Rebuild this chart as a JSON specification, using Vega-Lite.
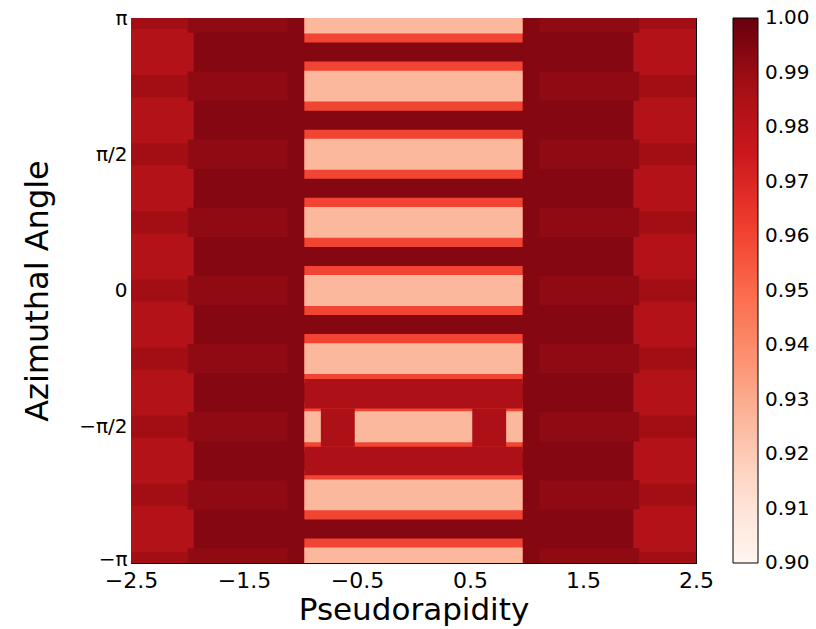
{
  "$schema": "https://vega.github.io/schema/vega-lite/v6.json",
  "width": 565,
  "height": 545,
  "autosize": {"type": "none"},
  "padding": {"left": 131, "top": 18, "right": 120, "bottom": 66},
  "background": "white",
  "config": {
    "view": {"stroke": "black", "strokeWidth": 1},
    "font": "DejaVu Sans"
  },
  "data": {
    "values": [
      {"x1": -2.5, "x2": 2.5, "y1": -3.1416, "y2": 3.1416, "v": 0.983},
      {"x1": -1.945, "x2": 1.945, "y1": -3.1416, "y2": 3.1416, "v": 0.994},

      {"x1": -2.0, "x2": -1.113, "y1": 2.9716, "y2": 3.1416, "v": 0.992},
      {"x1": -2.0, "x2": -1.113, "y1": 2.1862, "y2": 2.5262, "v": 0.992},
      {"x1": -2.0, "x2": -1.113, "y1": 1.4008, "y2": 1.7408, "v": 0.992},
      {"x1": -2.0, "x2": -1.113, "y1": 0.6154, "y2": 0.9554, "v": 0.992},
      {"x1": -2.0, "x2": -1.113, "y1": -0.17, "y2": 0.17, "v": 0.992},
      {"x1": -2.0, "x2": -1.113, "y1": -0.9554, "y2": -0.6154, "v": 0.992},
      {"x1": -2.0, "x2": -1.113, "y1": -1.7408, "y2": -1.4008, "v": 0.992},
      {"x1": -2.0, "x2": -1.113, "y1": -2.5262, "y2": -2.1862, "v": 0.992},
      {"x1": -2.0, "x2": -1.113, "y1": -3.1416, "y2": -2.9716, "v": 0.992},
      {"x1": 1.113, "x2": 2.0, "y1": 2.9716, "y2": 3.1416, "v": 0.992},
      {"x1": 1.113, "x2": 2.0, "y1": 2.1862, "y2": 2.5262, "v": 0.992},
      {"x1": 1.113, "x2": 2.0, "y1": 1.4008, "y2": 1.7408, "v": 0.992},
      {"x1": 1.113, "x2": 2.0, "y1": 0.6154, "y2": 0.9554, "v": 0.992},
      {"x1": 1.113, "x2": 2.0, "y1": -0.17, "y2": 0.17, "v": 0.992},
      {"x1": 1.113, "x2": 2.0, "y1": -0.9554, "y2": -0.6154, "v": 0.992},
      {"x1": 1.113, "x2": 2.0, "y1": -1.7408, "y2": -1.4008, "v": 0.992},
      {"x1": 1.113, "x2": 2.0, "y1": -2.5262, "y2": -2.1862, "v": 0.992},
      {"x1": 1.113, "x2": 2.0, "y1": -3.1416, "y2": -2.9716, "v": 0.992},

      {"x1": -2.5, "x2": -2.0, "y1": 3.0146, "y2": 3.1416, "v": 0.988},
      {"x1": -2.5, "x2": -2.0, "y1": 2.2292, "y2": 2.4832, "v": 0.988},
      {"x1": -2.5, "x2": -2.0, "y1": 1.4438, "y2": 1.6978, "v": 0.988},
      {"x1": -2.5, "x2": -2.0, "y1": 0.6584, "y2": 0.9124, "v": 0.988},
      {"x1": -2.5, "x2": -2.0, "y1": -0.127, "y2": 0.127, "v": 0.988},
      {"x1": -2.5, "x2": -2.0, "y1": -0.9124, "y2": -0.6584, "v": 0.988},
      {"x1": -2.5, "x2": -2.0, "y1": -1.6978, "y2": -1.4438, "v": 0.988},
      {"x1": -2.5, "x2": -2.0, "y1": -2.4832, "y2": -2.2292, "v": 0.988},
      {"x1": -2.5, "x2": -2.0, "y1": -3.1416, "y2": -3.0146, "v": 0.988},
      {"x1": 2.0, "x2": 2.5, "y1": 3.0146, "y2": 3.1416, "v": 0.988},
      {"x1": 2.0, "x2": 2.5, "y1": 2.2292, "y2": 2.4832, "v": 0.988},
      {"x1": 2.0, "x2": 2.5, "y1": 1.4438, "y2": 1.6978, "v": 0.988},
      {"x1": 2.0, "x2": 2.5, "y1": 0.6584, "y2": 0.9124, "v": 0.988},
      {"x1": 2.0, "x2": 2.5, "y1": -0.127, "y2": 0.127, "v": 0.988},
      {"x1": 2.0, "x2": 2.5, "y1": -0.9124, "y2": -0.6584, "v": 0.988},
      {"x1": 2.0, "x2": 2.5, "y1": -1.6978, "y2": -1.4438, "v": 0.988},
      {"x1": 2.0, "x2": 2.5, "y1": -2.4832, "y2": -2.2292, "v": 0.988},
      {"x1": 2.0, "x2": 2.5, "y1": -3.1416, "y2": -3.0146, "v": 0.988},

      {"x1": -0.966, "x2": 0.966, "y1": 2.8586, "y2": 3.1416, "v": 0.960},
      {"x1": -0.966, "x2": 0.966, "y1": 2.0732, "y2": 2.6392, "v": 0.960},
      {"x1": -0.966, "x2": 0.966, "y1": 1.2878, "y2": 1.8538, "v": 0.960},
      {"x1": -0.966, "x2": 0.966, "y1": 0.5024, "y2": 1.0684, "v": 0.960},
      {"x1": -0.966, "x2": 0.966, "y1": -0.283, "y2": 0.283, "v": 0.960},
      {"x1": -0.966, "x2": 0.966, "y1": -1.0684, "y2": -0.5024, "v": 0.960},
      {"x1": -0.966, "x2": 0.966, "y1": -1.8538, "y2": -1.2878, "v": 0.960},
      {"x1": -0.966, "x2": 0.966, "y1": -2.6392, "y2": -2.0732, "v": 0.960},
      {"x1": -0.966, "x2": 0.966, "y1": -3.1416, "y2": -2.8586, "v": 0.960},

      {"x1": -0.966, "x2": 0.966, "y1": 2.9636, "y2": 3.1416, "v": 0.926},
      {"x1": -0.966, "x2": 0.966, "y1": 2.1782, "y2": 2.5342, "v": 0.926},
      {"x1": -0.966, "x2": 0.966, "y1": 1.3928, "y2": 1.7488, "v": 0.926},
      {"x1": -0.966, "x2": 0.966, "y1": 0.6074, "y2": 0.9634, "v": 0.926},
      {"x1": -0.966, "x2": 0.966, "y1": -0.178, "y2": 0.178, "v": 0.926},
      {"x1": -0.966, "x2": 0.966, "y1": -0.9634, "y2": -0.6074, "v": 0.926},
      {"x1": -0.966, "x2": 0.966, "y1": -1.7488, "y2": -1.3928, "v": 0.926},
      {"x1": -0.966, "x2": 0.966, "y1": -2.5342, "y2": -2.1782, "v": 0.926},
      {"x1": -0.966, "x2": 0.966, "y1": -3.1416, "y2": -2.9636, "v": 0.926},

      {"x1": -0.966, "x2": 0.966, "y1": -1.36, "y2": -1.02, "v": 0.985},
      {"x1": -0.966, "x2": 0.966, "y1": -2.13, "y2": -1.80, "v": 0.985},
      {"x1": -0.82, "x2": -0.52, "y1": -1.80, "y2": -1.36, "v": 0.985},
      {"x1": 0.52, "x2": 0.82, "y1": -1.80, "y2": -1.36, "v": 0.985}
    ]
  },
  "layer": [
    {
      "mark": {"type": "rect", "strokeWidth": 0},
      "encoding": {
        "x": {
          "field": "x1", "type": "quantitative",
          "scale": {"domain": [-2.5, 2.5], "nice": false, "zero": false},
          "axis": {
            "values": [-2.5, -1.5, -0.5, 0.5, 1.5, 2.5],
            "format": ".1f",
            "title": "Pseudorapidity",
            "domain": false, "grid": false,
            "tickSize": -6, "tickColor": "black", "tickWidth": 1,
            "labelPadding": 13, "labelFontSize": 22, "labelColor": "black",
            "labelFont": "DejaVu Sans", "labelOverlap": false, "labelFlush": false,
            "titleFontSize": 31, "titleFontWeight": "normal", "titleColor": "black",
            "titleFont": "DejaVu Sans", "titlePadding": 4
          }
        },
        "x2": {"field": "x2"},
        "y": {
          "field": "y1", "type": "quantitative",
          "scale": {"domain": [-3.14159, 3.14159], "nice": false, "zero": false},
          "axis": {
            "values": [-3.14159, -1.5708, 0, 1.5708, 3.14159],
            "labelExpr": "datum.value > 3 ? 'π' : datum.value > 1 ? 'π/2' : datum.value > -1 ? '0' : datum.value > -2 ? '−π/2' : '−π'",
            "title": "Azimuthal Angle",
            "domain": false, "grid": false,
            "tickSize": -6, "tickColor": "black", "tickWidth": 1,
            "labelPadding": 10, "labelFontSize": 20, "labelColor": "black",
            "labelOffset": {"condition": {"test": "datum.value < -3", "value": -4}, "value": 0},
            "labelFont": "DejaVu Sans", "labelOverlap": false, "labelFlush": false,
            "titleFontSize": 32, "titleFontWeight": "normal", "titleColor": "black",
            "titleFont": "DejaVu Sans", "titlePadding": 24
          }
        },
        "y2": {"field": "y2"},
        "color": {
          "field": "v", "type": "quantitative",
          "scale": {
            "domain": [0.9, 0.9125, 0.925, 0.9375, 0.95, 0.9625, 0.975, 0.9875, 1.0],
            "range": ["#fff5f0", "#fee0d2", "#fcbba1", "#fc9272", "#fb6a4a", "#ef3b2c", "#cb181d", "#a50f15", "#67000d"],
            "interpolate": "rgb"
          },
          "legend": {
            "title": null,
            "orient": "none",
            "legendX": 602,
            "legendY": 0,
            "direction": "vertical",
            "gradientLength": 545,
            "gradientThickness": 25,
            "gradientStrokeColor": "black",
            "gradientStrokeWidth": 1,
            "values": [0.9, 0.91, 0.92, 0.93, 0.94, 0.95, 0.96, 0.97, 0.98, 0.99, 1.0],
            "format": ".2f",
            "labelFontSize": 20,
            "labelFont": "DejaVu Sans",
            "labelColor": "black",
            "labelOffset": 7,
            "labelOverlap": false,
            "encoding": {"labels": {"baseline": {"value": "middle"}}}
          }
        }
      }
    },
    {
      "mark": {"type": "rect", "opacity": 0},
      "encoding": {
        "x": {
          "field": "x1", "type": "quantitative",
          "axis": {"orient": "top", "values": [-2.5, -1.5, -0.5, 0.5, 1.5, 2.5], "labels": false, "title": null, "domain": false, "grid": false, "tickSize": -6, "tickColor": "black"}
        },
        "x2": {"field": "x2"},
        "y": {
          "field": "y1", "type": "quantitative",
          "axis": {"orient": "right", "values": [-3.14159, -1.5708, 0, 1.5708, 3.14159], "labels": false, "title": null, "domain": false, "grid": false, "tickSize": -6, "tickColor": "black"}
        },
        "y2": {"field": "y2"}
      }
    }
  ],
  "resolve": {"axis": {"x": "independent", "y": "independent"}}
}
